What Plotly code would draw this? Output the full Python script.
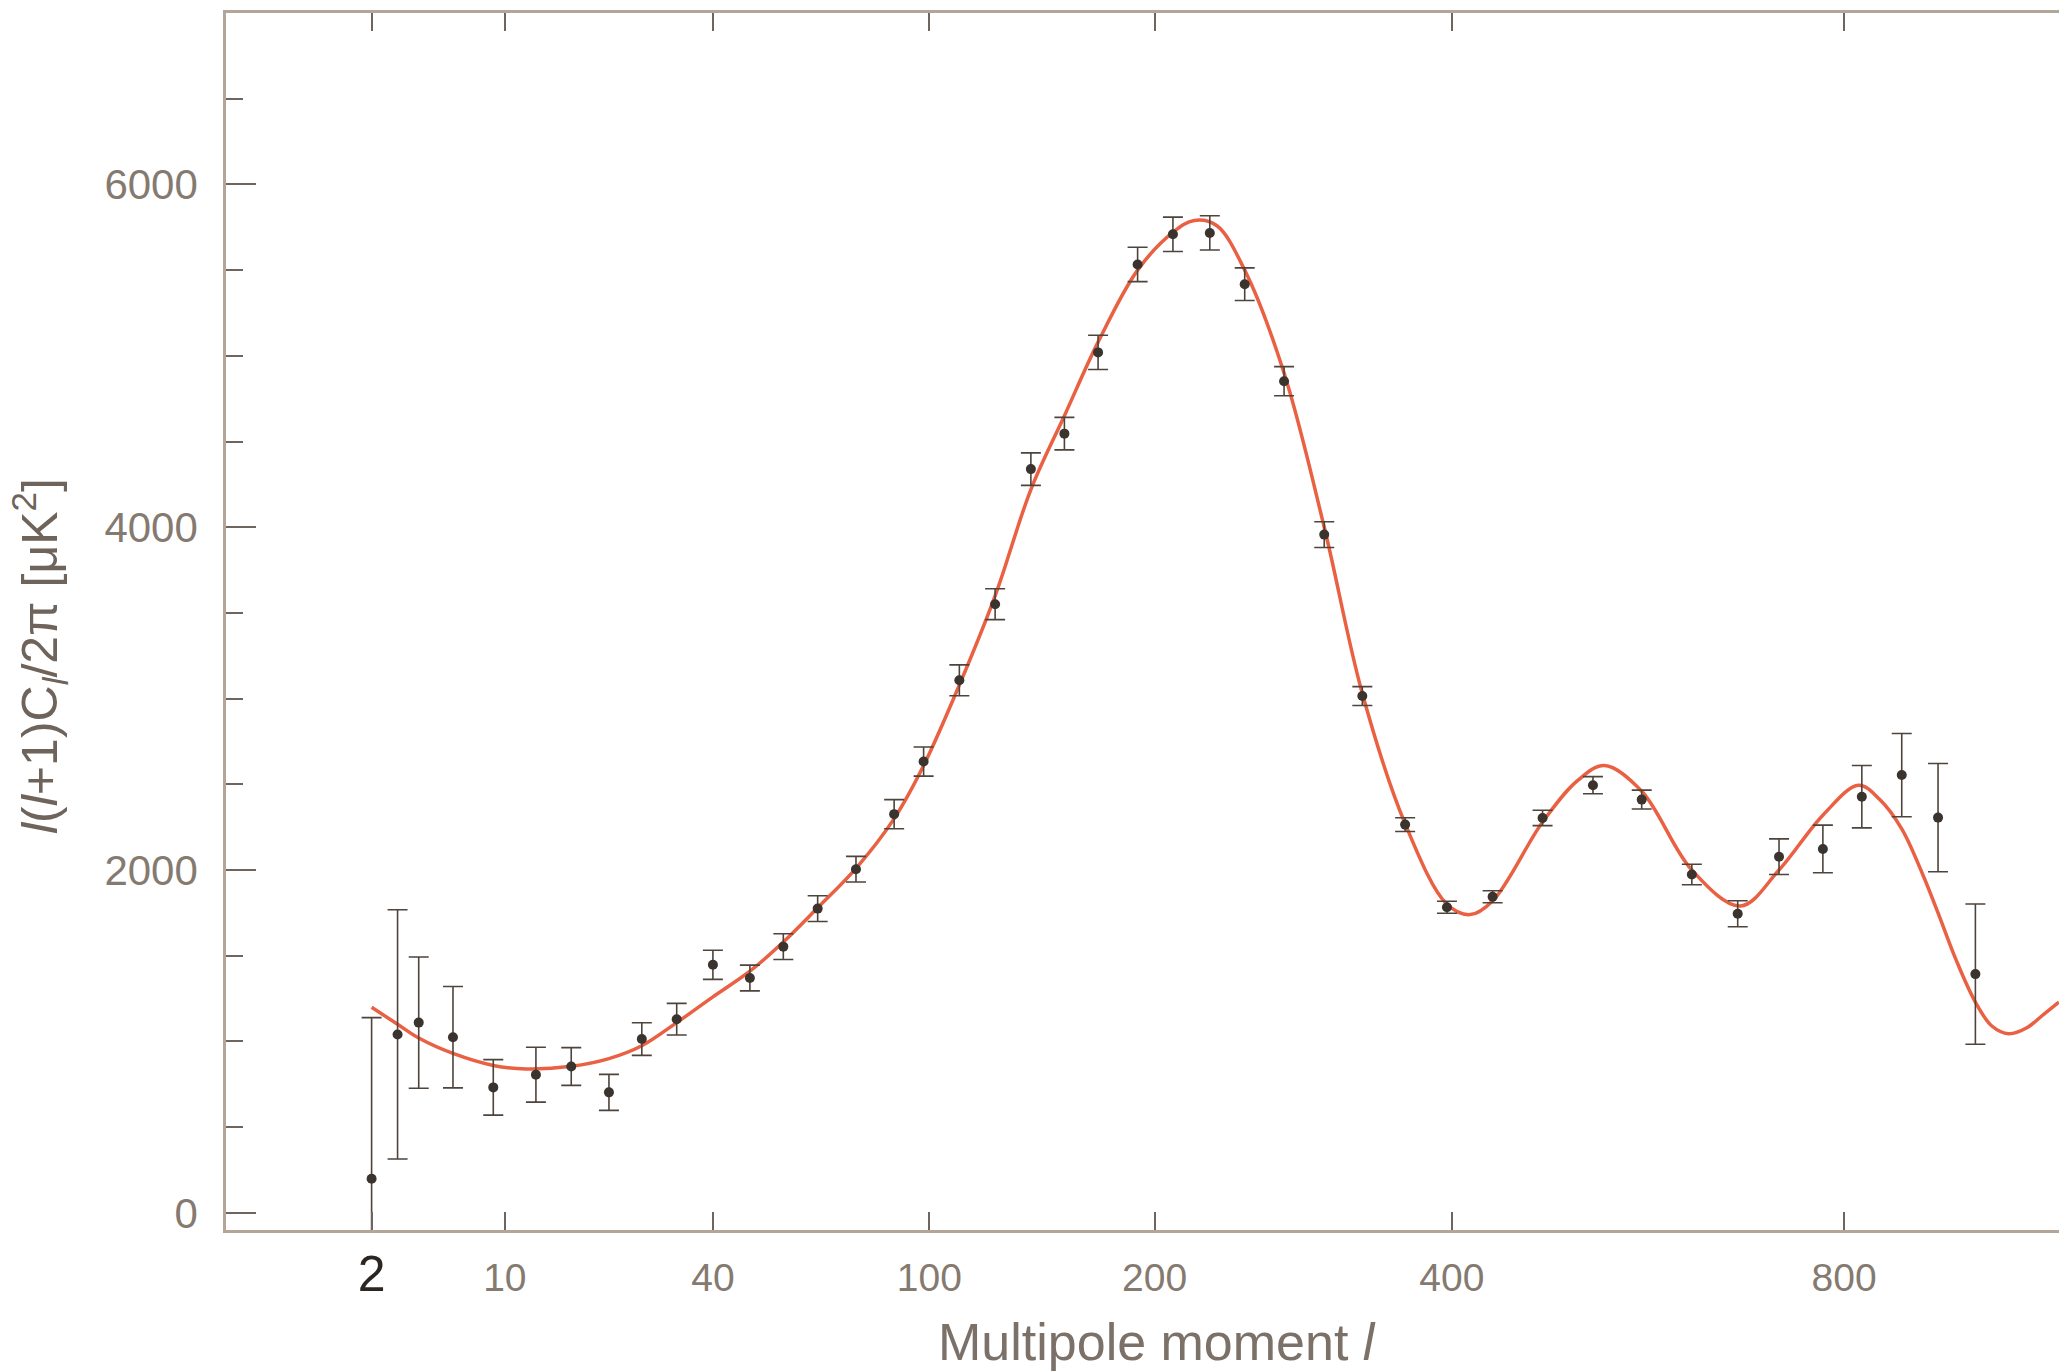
import plotly.graph_objects as go

# ---------------- data ----------------
# multipole moments of the measured band powers
data_l = [2, 3, 4, 6, 9, 13, 17, 22, 27, 33, 40, 48, 56, 65, 76, 88, 98, 111, 125,
          140, 155, 171, 191, 210, 231, 252, 277, 304, 331, 363, 396, 434, 478, 525,
          573, 625, 675, 722, 774, 822, 873, 921, 972]
# l(l+1)C_l/2pi  [uK^2]
data_power = [199, 1041, 1110, 1025, 732, 806, 854, 703, 1014, 1130, 1447, 1370, 1553,
              1775, 2005, 2326, 2633, 3107, 3551, 4339, 4546, 5020, 5533, 5709, 5717,
              5418, 4852, 3957, 3015, 2265, 1783, 1844, 2304, 2495, 2411, 1974, 1745,
              2078, 2123, 2428, 2554, 2306, 1393]
data_err = [940, 727, 383, 296, 162, 160, 110, 105, 95, 92, 85, 75, 75, 75, 75, 85, 85,
            90, 90, 95, 95, 100, 100, 100, 100, 95, 85, 75, 55, 40, 35, 35, 45, 50, 55,
            60, 76, 104, 139, 182, 243, 316, 409]

# best-fit model curve
model_l = [2, 3, 4, 6, 9, 12, 17, 22, 27, 33, 40, 48, 56, 65, 76, 88, 98, 111, 125,
           140, 155, 171, 191, 210, 222, 235, 252, 277, 304, 331, 363, 396, 415, 434,
           478, 510, 536, 573, 625, 678, 722, 774, 818, 845, 873, 900, 921, 945, 972,
           995, 1019, 1045, 1070, 1092]
model_power = [1200, 1100, 1020, 930, 860, 840, 855, 900, 975, 1110, 1260, 1410, 1580,
               1780, 2010, 2300, 2610, 3080, 3600, 4220, 4650, 5080, 5500, 5720, 5790,
               5760, 5500, 4900, 4000, 3030, 2270, 1800, 1740, 1820, 2280, 2520, 2610,
               2460, 2000, 1790, 2000, 2320, 2495, 2410, 2240, 1980, 1750, 1480, 1230,
               1090, 1045, 1080, 1160, 1230]

x_tick_values = [2, 10, 40, 100, 200, 400, 800]
x_tick_labels = ['<span style="font-size:50px;fill:#2b2622;color:#2b2622">2</span>',
                 '10', '40', '100', '200', '400', '800']

x_title = "Multipole moment <i>l</i>"
y_title = "<i>l</i>(<i>l</i>+1)C<sub><i>l</i></sub>/2\u03c0 [\u03bcK<sup>2</sup>]"

# the horizontal axis of the reference is spaced as l**0.4
P = 0.4


def xs(vals):
    return [v ** P for v in vals]


AXIS = "#b3a597"
TICK = "#6f655c"
LABEL = "#857a70"
FONT = "Liberation Sans, Arial, Helvetica, sans-serif"

fig = go.Figure()

fig.add_trace(go.Scatter(
    x=xs(model_l), y=model_power, mode="lines",
    line=dict(color="#ea6042", width=3.5, shape="spline", smoothing=1.0),
    hoverinfo="skip", showlegend=False,
))

fig.add_trace(go.Scatter(
    x=xs(data_l), y=data_power, mode="markers",
    marker=dict(color="#3a332e", size=10),
    error_y=dict(type="data", array=data_err, color="#4e443c", thickness=1.6, width=10),
    showlegend=False,
))

fig.update_layout(
    width=2059, height=1372,
    margin=dict(l=226, r=0, t=13, b=142),
    paper_bgcolor="white", plot_bgcolor="white",
    font=dict(family=FONT, color=LABEL, size=40),
)

fig.update_xaxes(
    range=[0.0167, 16.418],
    tickmode="array", tickvals=xs(x_tick_values), ticktext=x_tick_labels,
    ticks="inside", ticklen=18, tickwidth=1.5, tickcolor=TICK,
    showline=True, linecolor=AXIS, linewidth=2.5, mirror="ticks",
    showgrid=False, zeroline=False,
    tickfont=dict(size=39, color=LABEL),
    ticklabelstandoff=11,
)

fig.update_yaxes(
    range=[-100, 7000],
    tickmode="linear", tick0=0, dtick=2000,
    ticks="inside", ticklen=30, tickwidth=1.5, tickcolor=TICK,
    minor=dict(dtick=500, tick0=0, ticks="inside", ticklen=17, tickwidth=1.5,
               tickcolor=TICK, showgrid=False),
    showline=True, linecolor=AXIS, linewidth=2.5,
    showgrid=False, zeroline=False,
    tickfont=dict(size=42, color=LABEL),
    ticklabelstandoff=17,
)

# axis titles placed where the reference has them
fig.add_annotation(
    text=x_title, xref="paper", yref="paper",
    x=(1157 - 226) / 1833, y=(1230 - 1342) / 1217,
    xanchor="center", yanchor="middle", showarrow=False,
    font=dict(size=52, color="#7c7168", family=FONT),
)
fig.add_annotation(
    text=y_title, xref="paper", yref="paper",
    x=(39 - 226) / 1833, y=(1230 - 656) / 1217,
    xanchor="center", yanchor="middle", showarrow=False, textangle=-90,
    font=dict(size=50, color="#6f645b", family=FONT),
)

fig.write_html(
    "out.html",
    config={"displayModeBar": False},
    post_script="document.body.style.margin='0';document.body.style.overflow='hidden';",
)
